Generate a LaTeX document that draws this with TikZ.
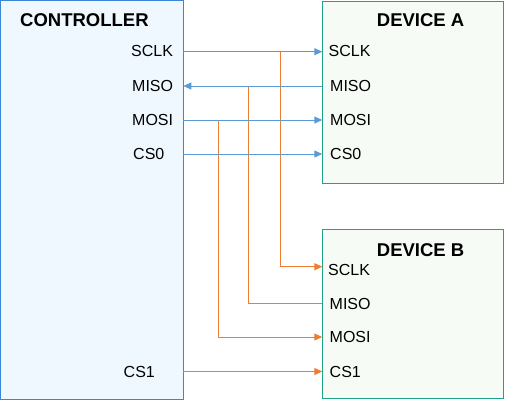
\documentclass[tikz,border=0pt]{standalone}
\usepackage{fontspec}
\setmainfont{Liberation Sans}
\usetikzlibrary{arrows.meta}
\definecolor{ctrlborder}{RGB}{61,133,214}
\definecolor{ctrlfill}{RGB}{240,248,255}
\definecolor{devborder}{RGB}{31,163,134}
\definecolor{devfill}{RGB}{246,251,245}
\definecolor{wireblue}{RGB}{91,155,213}
\definecolor{wireorange}{RGB}{237,125,49}
\tikzset{
  ctrlbox/.style={draw=ctrlborder, fill=ctrlfill, line width=1pt, inner sep=0pt},
  devbox/.style={draw=devborder, fill=devfill, line width=1pt, inner sep=0pt},
  pin/.style={anchor=base west, inner sep=0pt, font=\fontsize{16}{18}\selectfont},
  title/.style={anchor=base west, inner sep=0pt, font=\fontsize{18.5}{20}\selectfont\bfseries},
  bwire/.style={draw=wireblue, line width=1pt},
  owire/.style={draw=wireorange, line width=1pt},
  tip/.style={-{Triangle[length=8pt,width=7pt]}},
}
\begin{document}
\begin{tikzpicture}[x=1pt,y=-1pt]
\useasboundingbox (0,0) rectangle (505,400);
% boxes
\node[ctrlbox, minimum width=182.8pt, minimum height=398.8pt] (ctrl) at (91.9,199.9) {};
\node[devbox, minimum width=181.5pt, minimum height=182.3pt] (devA) at (413.05,92.15) {};
\node[devbox, minimum width=181.5pt, minimum height=169.1pt] (devB) at (413.05,314.25) {};
% titles
\node[title] (tctrl) at (20,26) {CONTROLLER};
\node[title] (tdevA) at (376.7,26) {DEVICE A};
\node[title] (tdevB) at (376.7,256) {DEVICE B};
% controller pins
\node[pin] (cSCLK) at (131,56) {SCLK};
\node[pin] (cMISO) at (132,91.3) {MISO};
\node[pin] (cMOSI) at (132,125) {MOSI};
\node[pin] (cCS0) at (133,159.3) {CS0};
\node[pin] (cCS1) at (123.5,377.3) {CS1};
% device A pins
\node[pin] (aSCLK) at (328.5,56) {SCLK};
\node[pin] (aMISO) at (330,91.3) {MISO};
\node[pin] (aMOSI) at (330,125) {MOSI};
\node[pin] (aCS0) at (330,159.3) {CS0};
% device B pins
\node[pin] (bSCLK) at (328,275.3) {SCLK};
\node[pin] (bMISO) at (329.5,309.3) {MISO};
\node[pin] (bMOSI) at (329.5,342.7) {MOSI};
\node[pin] (bCS1) at (329.5,377) {CS1};
% connection points
\coordinate (pcS) at (183.3,51.7);
\coordinate (pcMi) at (183.3,86);
\coordinate (pcMo) at (183.3,120);
\coordinate (pcC0) at (183.3,154);
\coordinate (pcC1) at (183.3,371.5);
\coordinate (paS) at (322.3,51.7);
\coordinate (paMi) at (322.3,86);
\coordinate (paMo) at (322.3,120);
\coordinate (paC0) at (322.3,154);
\coordinate (pbS) at (322.3,266.7);
\coordinate (pbMi) at (322.3,303.7);
\coordinate (pbMo) at (322.3,337);
\coordinate (pbC1) at (322.3,371.5);
\coordinate (jS) at (280,51.7);
\coordinate (jMi) at (248.3,86);
\coordinate (jMo) at (218.3,120);
% orange wires to device B
\draw[owire, tip] (jS) |- (pbS);
\draw[owire] (pbMi) -| (jMi);
\draw[owire, tip] (jMo) |- (pbMo);
\draw[owire, tip] (pcC1) -- (pbC1);
% blue wires to device A
\draw[bwire, tip] (pcS) -- (paS);
\draw[bwire, tip] (paMi) -- (pcMi);
\draw[bwire, tip] (pcMo) -- (paMo);
\draw[bwire, tip] (pcC0) -- (paC0);
\end{tikzpicture}
\end{document}
